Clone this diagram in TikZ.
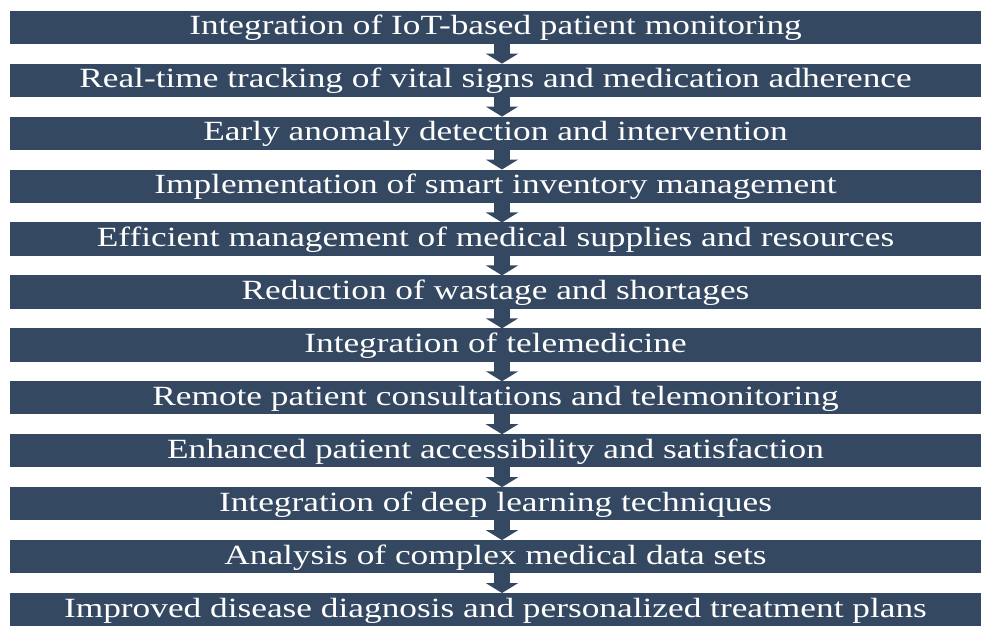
\documentclass[tikz,border=0pt]{standalone}
\usepackage{fontspec}
\setmainfont{Liberation Serif}[FakeStretch=1.27]
\usepackage{xcolor}
\usetikzlibrary{arrows.meta,positioning}

\definecolor{barblue}{RGB}{52,72,98}

\begin{document}
\begin{tikzpicture}[
    node distance=9.87pt,
    bar/.style={rectangle, fill=barblue, text=white, minimum width=485.5pt, minimum height=16.6pt,
                inner sep=0pt, outer sep=0pt, text height=11pt, text depth=3.4pt, font=\fontsize{13.9}{16}\selectfont},
    flow/.style={barblue, line width=8pt, -{Triangle[width=16pt, length=5pt]}}
]

\useasboundingbox (0,0) rectangle (491pt,-313pt);

\node[bar] (iot) at (247.75pt,-13.65pt) {Integration of IoT-based patient monitoring};
\node[bar, below=of iot] (vital) {Real-time tracking of vital signs and medication adherence};
\node[bar, below=of vital] (anomaly) {Early anomaly detection and intervention};
\node[bar, below=of anomaly] (inventory) {Implementation of smart inventory management};
\node[bar, below=of inventory] (supplies) {Efficient management of medical supplies and resources};
\node[bar, below=of supplies] (wastage) {Reduction of wastage and shortages};
\node[bar, below=of wastage] (tele) {Integration of telemedicine};
\node[bar, below=of tele] (remote) {Remote patient consultations and telemonitoring};
\node[bar, below=of remote] (access) {Enhanced patient accessibility and satisfaction};
\node[bar, below=of access] (deep) {Integration of deep learning techniques};
\node[bar, below=of deep] (data) {Analysis of complex medical data sets};
\node[bar, below=of data] (diagnosis) {Improved disease diagnosis and personalized treatment plans};

% block arrows between the bars
\foreach \a/\b in {iot/vital, vital/anomaly, anomaly/inventory, inventory/supplies,
                   supplies/wastage, wastage/tele, tele/remote, remote/access,
                   access/deep, deep/data, data/diagnosis}
    \draw[flow] ([xshift=3.25pt]\a.south) -- ([xshift=3.25pt]\b.north);

\end{tikzpicture}
\end{document}
